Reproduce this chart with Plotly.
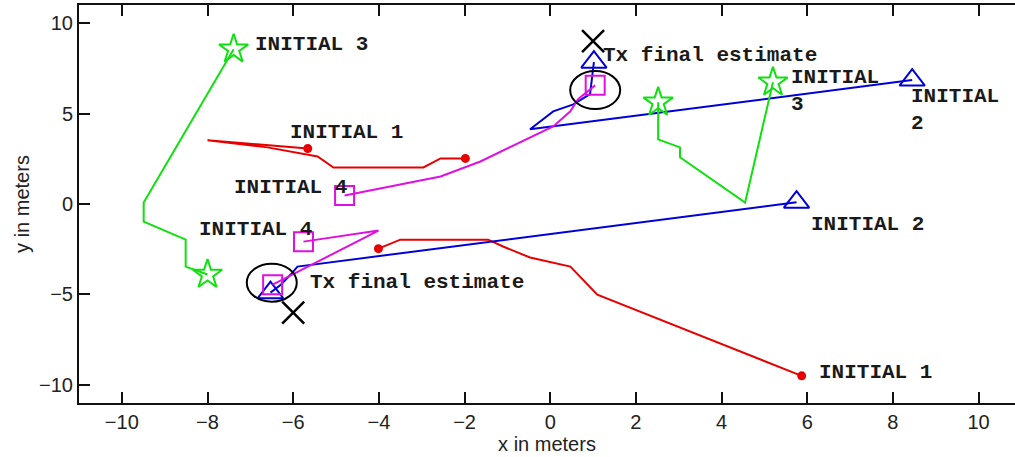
import plotly.graph_objects as go

# ---------------- data ----------------
# Trajectories started from INITIAL 1 (red, dots at both ends)
red_a_x = [-1.98, -2.56, -2.96, -5.06, -5.43, -6.60, -8.00, -5.66]
red_a_y = [2.52, 2.52, 2.02, 2.02, 2.63, 3.13, 3.52, 3.07]
red_b_x = [-4.01, -3.50, -1.45, -1.10, -0.47, 0.47, 1.10, 5.87]
red_b_y = [-2.47, -1.97, -1.97, -2.35, -2.96, -3.46, -5.01, -9.50]

# Trajectories started from INITIAL 2 (blue, triangles at both ends)
blue_a_x = [8.45, -0.47, 0.07, 0.54, 0.93, 1.02]
blue_a_y = [6.85, 4.13, 5.12, 5.51, 6.07, 7.84]
blue_b_x = [5.75, -5.90, -6.06, -6.29, -6.53]
blue_b_y = [0.10, -3.46, -3.90, -4.46, -4.90]

# Trajectories started from INITIAL 3 (green, stars at both ends)
green_a_x = [-7.39, -9.49, -9.49, -8.51, -8.51, -8.00]
green_a_y = [8.56, 0.08, -0.97, -1.97, -3.46, -3.90]
green_b_x = [2.52, 2.52, 3.03, 3.03, 4.55, 5.20]
green_b_y = [5.62, 3.57, 3.13, 2.58, 0.08, 6.73]

# Trajectories started from INITIAL 4 (magenta, squares at both ends)
mag_a_x = [-4.80, -2.56, -1.63, 0.07, 0.47, 0.65, 1.05]
mag_a_y = [0.47, 1.52, 2.35, 4.29, 5.12, 5.79, 6.56]
mag_b_x = [-5.76, -4.01, -6.48]
mag_b_y = [-2.08, -1.47, -4.46]

# True transmitter positions (black x) and final estimates (black circles)
tx_true_x = [1.0, -6.0]
tx_true_y = [9.0, -6.0]
tx_est_x = [1.05, -6.50]
tx_est_y = [6.30, -4.35]

# Text labels
label_text = ["INITIAL 3", "INITIAL 1", "INITIAL 4", "INITIAL 4",
              "Tx final estimate", "Tx final estimate",
              "INITIAL<br>3", "INITIAL<br>2", "INITIAL 2", "INITIAL 1"]
label_x = [-6.92, -6.10, -7.41, -8.23, 1.22, -5.64, 5.60, 8.39, 6.06, 6.25]
label_y = [8.84, 3.96, 0.91, -1.41, 8.20, -4.35, 6.26, 5.20, -1.14, -9.33]

x_ticks = [-10, -8, -6, -4, -2, 0, 2, 4, 6, 8, 10]
y_ticks = [-10, -5, 0, 5, 10]

# ---------------- figure ----------------
RED, BLUE, GREEN, MAG = "#e80000", "#0000d8", "#10e010", "#e010e0"

fig = go.Figure()

def add_path(xs, ys, color, symbol, size, width=2):
    fig.add_trace(go.Scatter(x=xs, y=ys, mode="lines",
                             line=dict(color=color, width=width),
                             showlegend=False, hoverinfo="skip"))
    fig.add_trace(go.Scatter(x=[xs[0], xs[-1]], y=[ys[0], ys[-1]], mode="markers",
                             marker=dict(symbol=symbol, size=size, color=color,
                                         line=dict(color=color, width=2)),
                             showlegend=False, hoverinfo="skip"))

add_path(red_a_x, red_a_y, RED, "circle", 7)
add_path(red_b_x, red_b_y, RED, "circle", 7)
add_path(blue_a_x, blue_a_y, BLUE, "triangle-up-open", 22)
add_path(blue_b_x, blue_b_y, BLUE, "triangle-up-open", 22)
add_path(green_a_x, green_a_y, GREEN, "star-open", 22)
add_path(green_b_x, green_b_y, GREEN, "star-open", 22)
add_path(mag_a_x, mag_a_y, MAG, "square-open", 19)
add_path(mag_b_x, mag_b_y, MAG, "square-open", 19)

fig.add_trace(go.Scatter(x=tx_true_x, y=tx_true_y, mode="markers",
                         marker=dict(symbol="x-thin-open", size=22, color="black",
                                     line=dict(color="black", width=2.5)),
                         showlegend=False, hoverinfo="skip"))

for cx, cy in zip(tx_est_x, tx_est_y):
    fig.add_shape(type="circle", xref="x", yref="y",
                  xsizemode="pixel", ysizemode="pixel",
                  xanchor=cx, yanchor=cy, x0=-25, x1=25, y0=-19, y1=19,
                  line=dict(color="black", width=2))

for t, x, y in zip(label_text, label_x, label_y):
    fig.add_annotation(x=x, y=y, text="<b>" + t + "</b>", showarrow=False,
                       xanchor="left", yanchor="middle", align="left",
                       borderpad=0,
                       font=dict(family="Liberation Mono, Courier New, monospace",
                                 size=21, color="#1a1a1a"))

axis_font = dict(family="Liberation Sans, Arial, sans-serif", size=20, color="#222")

fig.update_layout(
    width=1015, height=457,
    margin=dict(l=79, r=0, t=5, b=54),
    paper_bgcolor="white", plot_bgcolor="white",
    font=axis_font,
    xaxis=dict(range=[-11, 10.85], tickvals=x_ticks, ticks="inside", ticklen=11,
               tickwidth=2, tickcolor="#111", showline=True, linecolor="#111",
               linewidth=2, mirror="ticks", showgrid=False, zeroline=False,
               tickfont=axis_font,
               title=dict(text="x in meters", font=axis_font, standoff=0)),
    yaxis=dict(range=[-11, 11], tickvals=y_ticks, ticks="inside", ticklen=11,
               tickwidth=2, tickcolor="#111", showline=True, linecolor="#111",
               linewidth=2, mirror=False, showgrid=False, zeroline=False,
               tickfont=axis_font,
               title=dict(text="y in meters", font=axis_font, standoff=4)),
)

fig.write_html("out.html")
